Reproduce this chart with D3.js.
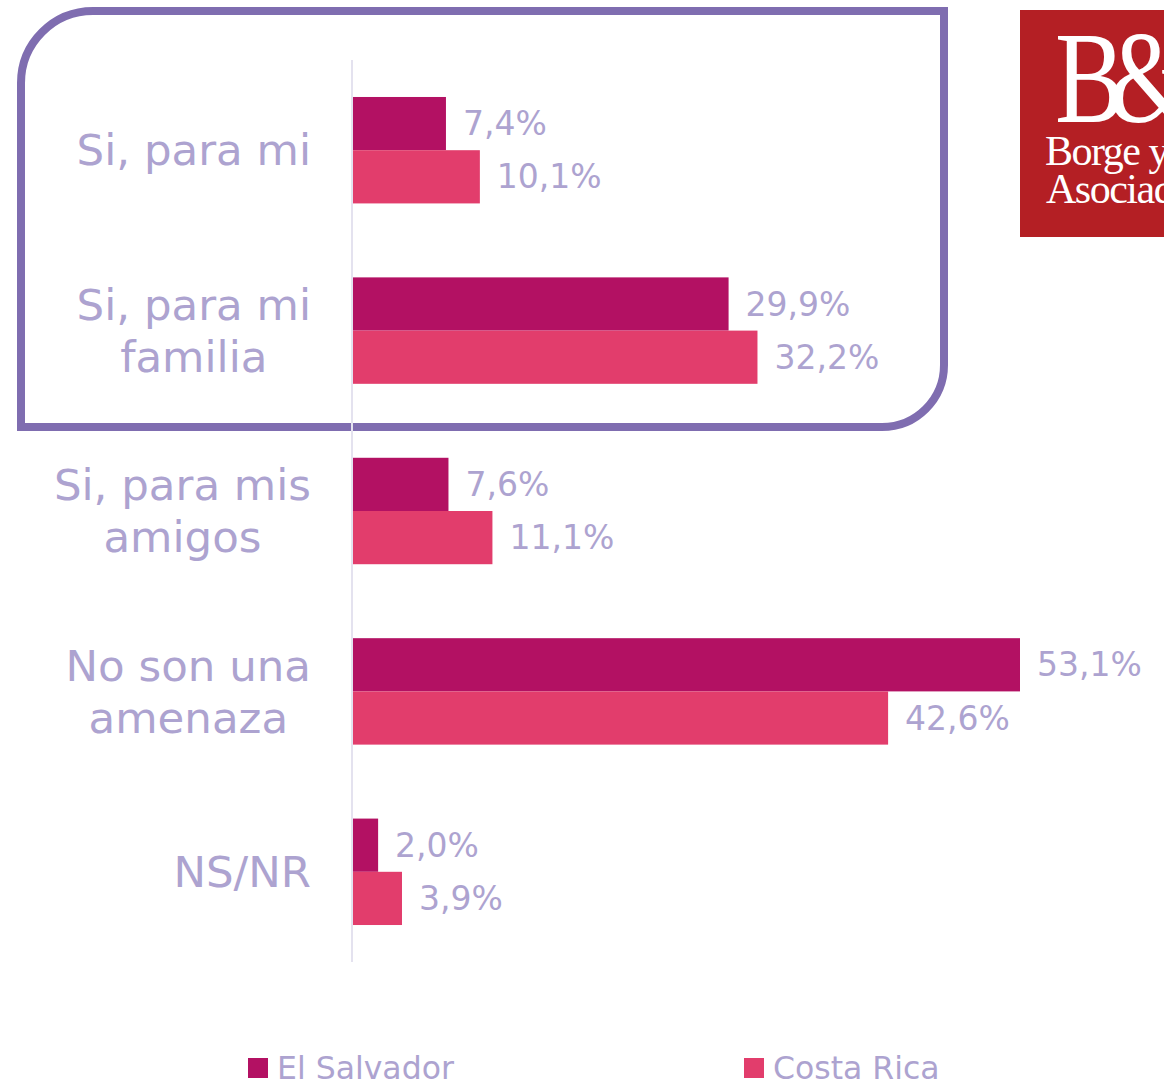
<!DOCTYPE html>
<html><head><meta charset="utf-8">
<script src="https://cdn.jsdelivr.net/npm/d3@7"></script>
<style>body{margin:0;background:#fff;overflow:hidden}svg{display:block}</style>
</head><body>
<script>
const categories = [["Si, para mi"], ["Si, para mi","familia"], ["Si, para mis","amigos"], ["No son una","amenaza"], ["NS/NR"]];
const seriesNames = ["El Salvador", "Costa Rica"];
const elSalvador = [7.4, 29.9, 7.6, 53.1, 2.0];
const costaRica = [10.1, 32.2, 11.1, 42.6, 3.9];
const colors = ["#b31163", "#e23d6c"];
const textColor = "#ada3d0";

const W = 1164, H = 1084;
const svg = d3.select("body").append("svg").attr("width", W).attr("height", H)
  .style("font-family", "'DejaVu Sans', Verdana, sans-serif");

const x = d3.scaleLinear().domain([0, 53.1]).range([353, 1020]);
const y = d3.scaleBand().domain(d3.range(categories.length)).range([60, 962]).paddingInner(0.41).paddingOuter(0.205);
const sub = d3.scaleBand().domain([0, 1]).range([0, y.bandwidth()]);

// frame (rounded TL and BR)
const L = 21, T = 11, R = 944, B = 427, r1 = 72, r2 = 62;
svg.append("path")
  .attr("d", `M${L},${B} L${L},${T + r1} A${r1},${r1} 0 0 1 ${L + r1},${T} L${R},${T} L${R},${B - r2} A${r2},${r2} 0 0 1 ${R - r2},${B} Z`)
  .attr("fill", "none").attr("stroke", "#7f6db0").attr("stroke-width", 8);

// axis line
svg.append("line").attr("x1", 352).attr("x2", 352).attr("y1", 60).attr("y2", 962)
  .attr("stroke", "#e4e2ef").attr("stroke-width", 2);

const series = [elSalvador, costaRica];
series.forEach((vals, si) => {
  const g = svg.append("g");
  g.selectAll("rect").data(vals).join("rect")
    .attr("x", x(0)).attr("y", (d, i) => y(i) + sub(si))
    .attr("width", d => x(d) - x(0)).attr("height", sub.bandwidth())
    .attr("fill", colors[si]);
  g.selectAll("text").data(vals).join("text")
    .attr("x", d => x(d) + 17).attr("y", (d, i) => y(i) + sub(si) + sub.bandwidth() / 2)
    .attr("dy", "0.35em").attr("font-size", 33).attr("fill", textColor)
    .text(d => d.toFixed(1).replace(".", ",") + "%");
});

// category labels
categories.forEach((lines, i) => {
  const cy = y(i) + y.bandwidth() / 2;
  const lh = 52;
  const t = svg.append("text").attr("text-anchor", "middle").attr("font-size", 43.5).attr("fill", textColor);
  lines.forEach((ln, k) => {
    t.append("tspan").attr("x", 0).attr("y", cy + (k - (lines.length - 1) / 2) * lh).attr("dy", "0.35em").text(ln);
  });
  const bb = t.node().getBBox();
  t.attr("transform", `translate(${311 - bb.width / 2},0)`);
});

// legend
const legX = [248, 744];
seriesNames.forEach((n, i) => {
  svg.append("rect").attr("x", legX[i]).attr("y", 1058).attr("width", 20).attr("height", 20).attr("fill", colors[i]);
  svg.append("text").attr("x", legX[i] + 29).attr("y", 1079).attr("font-size", 31.5).attr("fill", textColor).text(n);
});

// logo
const logo = svg.append("g");
logo.append("rect").attr("x", 1020).attr("y", 10).attr("width", 150).attr("height", 227).attr("fill", "#b41f24");
logo.append("text").attr("transform", "translate(1055,122) scale(0.8,1)")
  .attr("font-family", "'Liberation Serif', 'DejaVu Serif', serif")
  .attr("font-size", 131).attr("letter-spacing", -20).attr("fill", "#fff").text("B&A");
logo.append("text").attr("x", 1045).attr("y", 165).attr("font-family", "'Liberation Serif', serif")
  .attr("font-size", 42).attr("letter-spacing", -1.5).attr("fill", "#fff").text("Borge y");
logo.append("text").attr("x", 1046).attr("y", 203).attr("font-family", "'Liberation Serif', serif")
  .attr("font-size", 42).attr("letter-spacing", -1.5).attr("fill", "#fff").text("Asociados");
</script>
</body></html>
